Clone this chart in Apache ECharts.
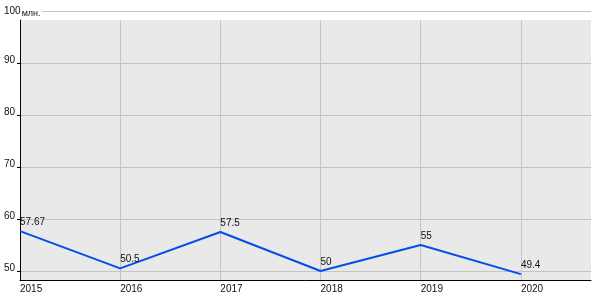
<!DOCTYPE html>
<html>
<head>
<meta charset="utf-8">
<script src="https://cdn.jsdelivr.net/npm/echarts@6/dist/echarts.min.js"></script>
<style>html,body{margin:0;padding:0;background:#fff}#c{width:600px;height:300px}</style>
</head>
<body>
<div id="c"></div>
<script>
var years = [2015, 2016, 2017, 2018, 2019, 2020];
var values = [57.67, 50.5, 57.5, 50, 55, 49.4];
var yTicks = [50, 60, 70, 80, 90];
var yTopTick = [100];
var unitName = 'млн.';

var font = 'Liberation Sans, Arial, sans-serif';
var fs = 10;
var chart = echarts.init(document.getElementById('c'), null, {renderer: 'canvas'});
var option = {
  animation: false,
  backgroundColor: '#ffffff',
  grid: [
    {left: 20, right: 9, top: 20, bottom: 20, show: true, backgroundColor: '#e9e9e9', borderWidth: 0, outerBoundsMode: 'none', containLabel: false},
    {left: 20, right: 9, top: 11, bottom: 20, show: false, outerBoundsMode: 'none', containLabel: false}
  ],
  xAxis: [
    {
      type: 'value', gridIndex: 0, min: 2015, max: 2020.7,
      axisLine: {show: true, onZero: false, lineStyle: {color: '#000', width: 1}},
      axisTick: {show: false, customValues: years},
      axisLabel: {customValues: years, align: 'left', margin: 4, fontSize: fs, fontFamily: font, color: '#111', formatter: function (v) { return String(v); }},
      splitLine: {show: true, lineStyle: {color: '#c4c4c4', width: 1}}
    },
    {type: 'value', gridIndex: 1, min: 2015, max: 2020.7, show: false}
  ],
  yAxis: [
    {
      type: 'value', gridIndex: 0, min: 48.27, max: 98.32,
      axisLine: {show: true, onZero: false, lineStyle: {color: '#000', width: 1}},
      axisTick: {show: true, length: 3, customValues: yTicks, lineStyle: {color: '#000'}},
      axisLabel: {customValues: yTicks, align: 'left', margin: 16, verticalAlign: 'bottom', lineHeight: 6, fontSize: fs, fontFamily: font, color: '#111'},
      splitLine: {show: true, lineStyle: {color: '#c4c4c4', width: 1}}
    },
    {
      type: 'value', gridIndex: 1, min: 48.21, max: 100,
      axisLine: {show: false},
      axisTick: {show: false, customValues: yTopTick},
      axisLabel: {
        customValues: yTopTick, align: 'left', margin: 16, verticalAlign: 'middle',
        fontSize: fs, fontFamily: font, color: '#111',
        formatter: function (v) { return '{v|' + v + '}{u|' + unitName + '}'; },
        rich: {
          v: {fontSize: fs, fontFamily: font, color: '#111', verticalAlign: 'middle'},
          u: {fontSize: 9, fontFamily: font, color: '#111', verticalAlign: 'bottom', backgroundColor: '#fff', padding: [5, 1, 0, 1]}
        }
      },
      splitLine: {show: true, lineStyle: {color: '#c4c4c4', width: 1}}
    }
  ],
  series: [{
    type: 'line',
    xAxisIndex: 0, yAxisIndex: 0,
    data: years.map(function (y, i) { return [y, values[i]]; }),
    showSymbol: true,
    symbol: 'circle',
    symbolSize: 0.01,
    itemStyle: {color: '#0050e8'},
    lineStyle: {color: '#0050e8', width: 2},
    label: {show: true, position: 'top', distance: 4, align: 'left', fontSize: fs, fontFamily: font, color: '#111',
      formatter: function (p) { return String(p.value[1]); }}
  }]
};
chart.setOption(option);
</script>
</body>
</html>
